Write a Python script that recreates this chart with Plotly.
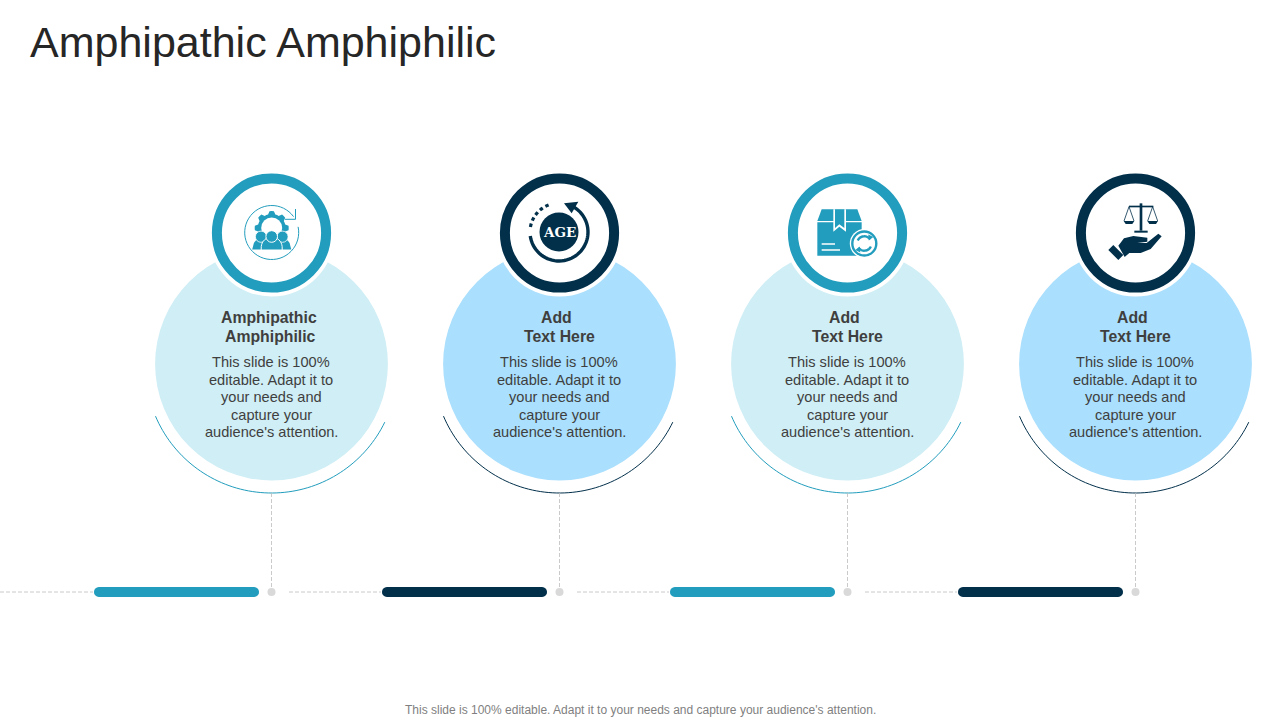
import math
import plotly.graph_objects as go

title_text = "Amphipathic Amphiphilic"
footer_text = "This slide is 100% editable. Adapt it to your needs and capture your audience's attention."
heading_lines = [["Amphipathic", "Amphiphilic"], ["Add", "Text Here"], ["Add", "Text Here"], ["Add", "Text Here"]]
body_lines = ["This slide is 100%", "editable. Adapt it to", "your needs and", "capture your", "audience's attention."]
age_label = "AGE"

TEAL, NAVY, PALE, SKY = "#229DBD", "#02304B", "#CFEEF5", "#AADFFD"
GREY, DOT, TXT = "#BDBDBD", "#D9D9D9", "#3F3F3F"
centers = [271.5, 559.5, 847.5, 1135.5]
accents = [TEAL, NAVY, TEAL, NAVY]
fills = [PALE, SKY, PALE, SKY]

shapes, notes = [], []


def circle(cx, cy, r, fill=None, line=None, w=0, layer="above"):
    shapes.append(dict(type="circle", xref="x", yref="y", x0=cx - r, x1=cx + r, y0=cy - r, y1=cy + r,
                       fillcolor=fill or "rgba(0,0,0,0)", line=dict(color=line or "rgba(0,0,0,0)", width=w), layer=layer))


def poly(pts, fill=None, line=None, w=0, close=True):
    d = "M " + " L ".join(f"{x:.2f},{y:.2f}" for x, y in pts) + (" Z" if close else "")
    shapes.append(dict(type="path", xref="x", yref="y", path=d, fillcolor=fill or "rgba(0,0,0,0)",
                       line=dict(color=line or "rgba(0,0,0,0)", width=w)))


def arc(cx, cy, r, a0, a1, n=48):
    return [(cx + r * math.cos(math.radians(a0 + (a1 - a0) * i / n)),
             cy + r * math.sin(math.radians(a0 + (a1 - a0) * i / n))) for i in range(n + 1)]


def seg(x0, y0, x1, y1, color, w=1, dash="solid"):
    shapes.append(dict(type="line", xref="x", yref="y", x0=x0, x1=x1, y0=y0, y1=y1,
                       line=dict(color=color, width=w, dash=dash)))


def text(x, y, s, size, color=TXT, bold=False, anchor="center", font="Liberation Sans"):
    notes.append(dict(x=x, y=y, xref="x", yref="y", text=f"<b>{s}</b>" if bold else s, showarrow=False,
                      xanchor=anchor, yanchor="middle", font=dict(family=font, size=size, color=color)))


def z(ox, oy, pts):
    return [(ox + x / 3, oy + y / 3) for x, y in pts]


def icon_team(c):
    cx, cy = 271.7, 232.5
    poly(arc(cx, cy, 27, -12, 324), line=c, w=1, close=False)
    poly([(295.5, 209), (295.5, 219.3), (285, 219.3)], line=c, w=1, close=False)
    teeth = []
    for i in range(48):
        a = i * 7.5
        r = 17 if (i % 6) in (0, 1, 5) else 14
        teeth.append((cx + r * math.cos(math.radians(a)), 228 + r * math.sin(math.radians(a))))
    poly(teeth, fill=c)
    circle(cx, 228, 10.5, fill="white")
    for bx, by, hw in [(261, 249.5, 8.8), (282.5, 249.5, 8.8)]:
        poly([(bx - hw, by)] + arc(bx, by - 3, hw - 1, 190, 350, 16) + [(bx + hw, by)], fill=c)
        circle(bx, by - 12.8, 5.6, fill=c, line="white", w=0.8)
    poly([(cx - 10.5, 250)] + arc(cx, 247.5, 10.5, 185, 355, 16) + [(cx + 10.5, 250)], fill=c, line="white", w=1)
    circle(cx, 236.5, 5.8, fill=c, line="white", w=1)


def icon_age(c):
    cx, cy = 559, 232
    circle(cx, cy, 19.5, fill=c)
    poly(arc(cx, cy, 29, -62, 172), line=c, w=3.4, close=False)
    poly(z(480, 160, [(295, 125), (252, 130), (275, 160)]), fill=c)
    for a in (190, 203, 216, 229, 242):
        p = arc(cx, cy, 29, a, a + 7, 3)
        poly(p, line=c, w=3.2, close=False)
    text(cx, cy, age_label, 13.5, color="white", bold=True, font="DejaVu Serif")


def icon_box(c):
    o = (770, 160)
    poly(z(*o, [(155, 148), (262, 148), (275, 183), (142, 183)]), fill=c)
    poly(z(*o, [(142, 187), (275, 187), (275, 287), (142, 287)]), fill=c)
    poly(z(*o, [(190, 148), (190, 215), (208, 200), (228, 215), (228, 148)]), fill="white")
    poly(z(*o, [(195, 148), (195, 204), (208, 193), (223, 204), (223, 148)]), fill=c)
    seg(*z(*o, [(155, 252)])[0], *z(*o, [(195, 252)])[0], "white", 1.5)
    seg(*z(*o, [(155, 270)])[0], *z(*o, [(210, 270)])[0], "white", 1.5)
    x, y = 864.3, 243.5
    circle(x, y, 14.5, fill="white")
    circle(x, y, 12, fill="white", line=c, w=2.4)
    poly(arc(x, y, 7.2, 205, 325, 16), line=c, w=2.4, close=False)
    poly(arc(x, y, 7.2, 25, 145, 16), line=c, w=2.4, close=False)
    poly([(x + 4, y - 9), (x + 9, y - 6.5), (x + 4.5, y - 3)], fill=c)
    poly([(x - 4, y + 9), (x - 9, y + 6.5), (x - 4.5, y + 3)], fill=c)


def icon_scale(c):
    o = (1055, 160)
    poly(z(*o, [(254, 130), (262, 130), (262, 212), (254, 212)]), fill=c)
    poly(z(*o, [(222, 137), (295, 137), (295, 142), (222, 142)]), fill=c)
    poly(z(*o, [(238, 212), (278, 212), (278, 218), (238, 218)]), fill=c)
    for px in (222, 293):
        poly(z(*o, [(px - 15, 183), (px, 140), (px + 15, 183)]), line=c, w=0.8, close=False)
        poly(z(*o, [(px - 16, 183), (px + 16, 183), (px + 10, 192), (px - 10, 192)]), fill=c)
    h = (1100, 225)
    poly(z(*h, [(55, 62), (72, 40), (100, 33), (142, 38), (142, 50), (112, 54), (140, 54),
                (175, 26), (185, 34), (152, 72), (122, 84), (88, 84), (74, 96)]), fill=c)
    poly(z(*h, [(25, 75), (40, 60), (70, 90), (55, 105)]), fill=c)


icons = [icon_team, icon_age, icon_box, icon_scale]

for i, cx in enumerate(centers):
    c = accents[i]
    circle(cx, 364, 116.4, fill=fills[i], layer="below")
    a0 = math.degrees(math.atan2(56, 115))
    poly(arc(cx, 367, 126, 180 - a0 + 3, a0, 72), line=c, w=1, close=False)
    seg(cx, 493, cx, 592, GREY, 0.8, "4px,2px")
    circle(cx, 233, 63.5, fill="white")
    circle(cx, 233, 54.6, fill="white", line=c, w=10)
    icons[i](c)
    bar_l, bar_r, bar_y = cx - 177.5, cx - 12.5, 592
    poly(arc(bar_l + 5, bar_y, 5, 90, 270, 12) + arc(bar_r - 5, bar_y, 5, -90, 90, 12), fill=c)
    seg(cx - 271.5 if i == 0 else cx - 270.5, 592, bar_l - 1, 592, GREY, 0.8, "4px,2px")
    circle(cx, 592, 4, fill=DOT)
    for ln, hy, dx in zip(heading_lines[i], (317.5, 336.5), ((-3, -1) if i == 0 else (-3, -0.5))):
        text(cx + dx, hy, ln, 15.8, bold=True)
    for ln, by, in zip(body_lines, (362, 380, 397, 415, 432)):
        text(cx - 0.5, by, ln, 14.6)

text(28, 42, title_text, 43, color="#262626", anchor="left")
text(640, 710, footer_text, 12, color="#7F7F7F")

fig = go.Figure()
fig.update_layout(
    width=1280, height=720, margin=dict(l=0, r=0, t=0, b=0), autosize=False,
    paper_bgcolor="white", plot_bgcolor="white", showlegend=False,
    xaxis=dict(range=[0, 1280], visible=False, fixedrange=True),
    yaxis=dict(range=[720, 0], visible=False, fixedrange=True),
    shapes=shapes, annotations=notes,
)
fig.write_html("out.html", config=dict(displayModeBar=False), default_width="1280px", default_height="720px",
               post_script="document.body.style.margin='0';")
